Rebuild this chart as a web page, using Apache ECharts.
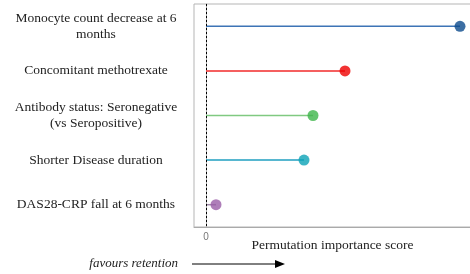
<!DOCTYPE html>
<html lang="en">
<head>
  <meta charset="UTF-8">
  <title>Permutation importance</title>
  <style>
    html, body { width: 100%; height: 100%; padding: 0; margin: 0; background: #fff; }
    #eChart { width: 470px; height: 274px; }
  </style>
</head>
<body>
  <div id="eChart"></div>
  <script src="https://cdn.jsdelivr.net/npm/echarts@6/dist/echarts.min.js"></script>
  <script>
    var categories = [
      'Monocyte count decrease at 6\nmonths',
      'Concomitant methotrexate',
      'Antibody status: Seronegative\n(vs Seropositive)',
      'Shorter Disease duration',
      'DAS28-CRP fall at 6 months'
    ];
    var scores = [0.254, 0.139, 0.107, 0.098, 0.010];
    var stemColors = ['#3d74b6', '#f22a2a', '#80c981', '#1f9fc0', '#a08aa8'];
    var dotColors = ['#0b4a8c', '#ee0000', '#3db54a', '#0ba2b6', '#9a5ea8'];

    var serif = '"Liberation Serif", "DejaVu Serif", serif';
    var myChart = echarts.init(document.getElementById('eChart'));

    myChart.setOption({
      animation: false,
      grid: {
        left: 194, top: 4, right: -1, bottom: 47,
        outerBoundsMode: 'none',
        show: true, borderColor: '#b5b5b5', borderWidth: 1
      },
      xAxis: {
        type: 'value',
        min: -0.012,
        max: 0.265,
        splitLine: { show: false },
        axisLine: { show: true, lineStyle: { color: '#aaa' } },
        axisTick: { show: false },
        axisLabel: { customValues: [0], color: '#777', fontSize: 10, margin: 5 },
        name: 'Permutation importance score',
        nameLocation: 'middle',
        nameGap: 11,
        nameMoveOverlap: false,
        nameTextStyle: { fontFamily: serif, fontSize: 13.5, color: '#222', verticalAlign: 'top' }
      },
      yAxis: {
        type: 'category',
        inverse: true,
        data: categories,
        axisLine: { show: true, lineStyle: { color: '#aaa' } },
        axisTick: { show: false },
        axisLabel: {
          fontFamily: serif, fontSize: 13.5, color: '#222',
          align: 'center', margin: 98, lineHeight: 16
        }
      },
      series: [
        {
          type: 'bar',
          barWidth: 1.5,
          silent: true,
          data: scores.map(function (v, i) {
            return { value: v, itemStyle: { color: stemColors[i] } };
          })
        },
        {
          type: 'scatter',
          symbolSize: 11,
          data: scores.map(function (v, i) {
            return { value: [v, categories[i]], itemStyle: { color: dotColors[i] } };
          }),
          markLine: {
            silent: true,
            symbol: 'none',
            label: { show: false },
            lineStyle: { color: '#000', type: [2, 2], width: 1 },
            data: [{ xAxis: 0 }]
          }
        }
      ],
      graphic: [
        {
          type: 'text', right: 292, top: 257,
          style: { text: 'favours retention', font: 'italic 13px ' + serif, fill: '#222' }
        },
        {
          type: 'line', shape: { x1: 192, y1: 264, x2: 276, y2: 264 },
          style: { stroke: '#000', lineWidth: 1 }
        },
        {
          type: 'polygon', shape: { points: [[275, 260], [285, 264], [275, 268]] },
          style: { fill: '#000' }
        }
      ]
    });
  </script>
</body>
</html>
